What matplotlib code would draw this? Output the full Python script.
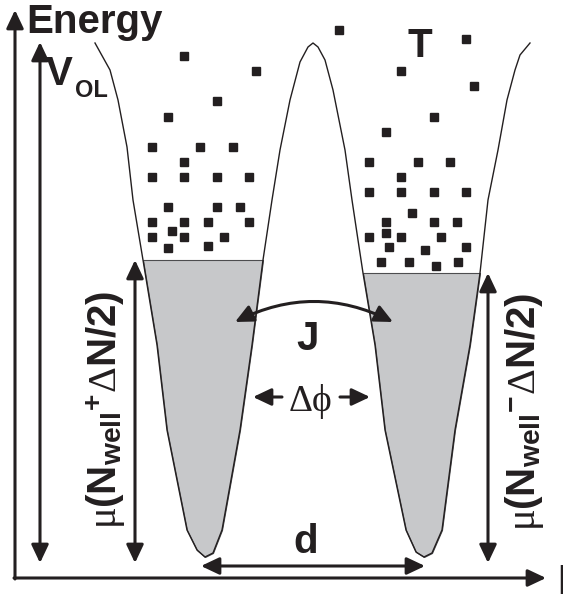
import matplotlib
matplotlib.use('Agg')
import matplotlib.pyplot as plt
from matplotlib.patches import FancyArrowPatch

plt.rcParams['font.family'] = ['Liberation Sans', 'DejaVu Sans']
plt.rcParams['mathtext.fontset'] = 'custom'
plt.rcParams['mathtext.rm'] = 'Liberation Serif'
plt.rcParams['mathtext.it'] = 'Liberation Serif'
plt.rcParams['mathtext.bf'] = 'Liberation Sans:bold'

ink = '#231f20'
grey = '#c7c8ca'

# double-well potential outline (picture coordinates, y down)
curve_x = [95, 110, 118, 127, 133, 143, 157, 167, 187, 197, 205, 213, 222, 240, 252, 263, 272, 280, 290, 300,
           308, 313, 318, 325, 333, 345, 352, 358, 363, 375, 385, 406, 416, 424, 432, 442, 455, 470, 480, 488,
           498, 507, 515, 520, 530]
curve_y = [43, 70, 100, 147, 200, 260, 345, 430, 530, 550, 557, 553, 530, 430, 345, 260, 200, 150, 100, 62,
           47, 43, 47, 60, 90, 150, 200, 240, 273, 345, 430, 530, 552, 557, 553, 530, 430, 345, 273, 200,
           150, 100, 70, 55, 43]
left_level = 260
right_level = 273

# thermal atoms
dots_x = [184, 256, 217, 168, 152, 200, 233, 184, 152, 184, 217, 249, 168, 217, 240, 152, 184, 208, 249,
          172, 152, 184, 224, 168, 208, 339,
          466, 401, 474, 434, 386, 369, 418, 450, 401, 369, 401, 434, 466, 412, 386, 434, 457,
          369, 386, 401, 441, 389, 425, 466, 381, 409, 436, 458]
dots_y = [56, 71, 101, 117, 147, 147, 147, 162, 177, 177, 177, 177, 207, 207, 207, 222, 222, 222, 222,
          231, 237, 237, 237, 248, 246, 30,
          39, 71, 86, 117, 132, 162, 162, 162, 177, 192, 192, 192, 192, 213, 222, 222, 222,
          237, 233, 237, 237, 247, 250, 247, 262, 262, 266, 262]

fig = plt.figure(figsize=(5.63, 5.94), dpi=100)
ax = fig.add_axes([0, 0, 1, 1])
ax.set_xlim(0, 563)
ax.set_ylim(594, 0)
ax.axis('off')

# condensate filling
lx = [x for x in curve_x if x < 313]
ly = curve_y[:len(lx)]
rx = curve_x[len(lx):]
ry = curve_y[len(lx):]
ax.fill_between(lx, ly, left_level, where=[y >= left_level for y in ly], interpolate=True,
                facecolor=grey, edgecolor='#4d4d4f', linewidth=0.8)
ax.fill_between(rx, ry, right_level, where=[y >= right_level for y in ry], interpolate=True,
                facecolor=grey, edgecolor='#4d4d4f', linewidth=0.8)
ax.plot(curve_x, curve_y, color=ink, linewidth=1.0)

ax.plot(dots_x, dots_y, 's', color=ink, markersize=6.2, linestyle='none')


def arrow(p0, p1, style='-|>', rad=0.0):
    a = FancyArrowPatch(p0, p1, arrowstyle=style + ',head_length=0.55,head_width=0.26',
                        connectionstyle='arc3,rad=%g' % rad, mutation_scale=20,
                        color=ink, linewidth=2.2, shrinkA=0, shrinkB=0)
    ax.add_patch(a)


# axes
arrow((15, 579), (15, 10))
arrow((14, 578), (546, 578))

arrow((40, 42), (40, 563), '<|-|>')
arrow((135, 260), (135, 563), '<|-|>')
arrow((488, 273), (488, 563), '<|-|>')
arrow((201, 566), (425, 566), '<|-|>')
arrow((282, 397), (253, 397))
arrow((340, 397), (370, 397))
arrow((235, 322), (393, 322), '<|-|>', rad=-0.25)

tk = dict(color=ink, fontweight='bold', fontsize=29)
ax.text(26, 33, 'Energy', ha='left', va='baseline', **tk)
ax.text(46, 85, 'V', ha='left', va='baseline', **tk)
ax.text(75, 97, 'OL', ha='left', va='baseline', color=ink, fontweight='bold', fontsize=17)
ax.text(420, 57, 'T', ha='center', va='baseline', **tk)
ax.text(308, 350, 'J', ha='center', va='baseline', **tk)
ax.text(306, 553, 'd', ha='center', va='baseline', **tk)
ax.text(557, 595, 'l', ha='left', va='baseline', **tk)
ax.text(311, 411, 'Δϕ', ha='center', va='baseline', color=ink, fontsize=27,
        family=['Liberation Serif', 'DejaVu Serif'])

ax.text(106, 410, r'$\mu$(N$_{\mathbf{well}}$$^{\mathbf{+}}$$\Delta$N/2)', rotation=90,
        ha='center', va='center', color=ink, fontweight='bold', fontsize=29)
ax.text(524, 412, r'$\mu$(N$_{\mathbf{well}}$$^{\mathbf{-}}$$\Delta$N/2)', rotation=90,
        ha='center', va='center', color=ink, fontweight='bold', fontsize=29)

fig.savefig('out.png', dpi=100)
